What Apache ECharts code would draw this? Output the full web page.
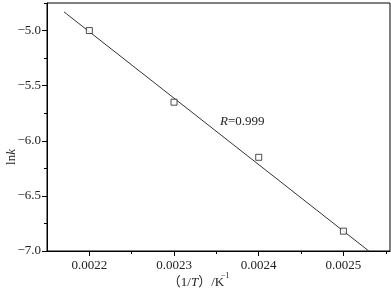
<!DOCTYPE html>
<html>
<head>
<meta charset="utf-8">
<script src="https://cdn.jsdelivr.net/npm/echarts@6/dist/echarts.min.js"></script>
<style>
html,body{margin:0;padding:0;background:#fff;}
#chart{width:391px;height:295px;}
</style>
</head>
<body>
<div id="chart"></div>
<script>
// measured points
var invT = [0.0022, 0.0023, 0.0024, 0.0025];
var lnK = [-5.0, -5.65, -6.15, -6.82];
// fitted line ends
var fitX = [0.00217, 0.00253];
var fitY = [-4.83, -7.0];
var xTicks = [0.0022, 0.0023, 0.0024, 0.0025];
var xMinorTicks = [0.00225, 0.00235, 0.00245, 0.00255];
var yTicks = [-7.0, -6.5, -6.0, -5.5, -5.0];
var yMinorTicks = [-6.75, -6.25, -5.75, -5.25, -4.75];

var font = "'Liberation Serif','Times New Roman',serif";
var ink = '#222';

var chart = echarts.init(document.getElementById('chart'));

var pts = invT.map(function(x, i){ return [x, lnK[i]]; });
var fit = fitX.map(function(x, i){ return [x, fitY[i]]; });

var option = {
	animation: false,
	grid: {
		left: 47, top: 3, right: 1, bottom: 44,
		show: true, borderColor: '#000', borderWidth: 1
	},
	xAxis: [{
		type: 'value',
		min: 0.00215, max: 0.002555,
		axisLine: { show: true, lineStyle: { color: '#000' } },
		axisTick: { show: true, customValues: xTicks, length: 5, lineStyle: { color: '#000' } },
		axisLabel: {
			customValues: xTicks,
			formatter: function(v){ return v.toFixed(4); },
			fontFamily: font, fontSize: 13, color: ink, margin: 8
		},
		splitLine: { show: false }
	}, {
		type: 'value',
		position: 'bottom',
		min: 0.00215, max: 0.002555,
		axisLine: { show: false },
		axisTick: { show: true, customValues: xMinorTicks, length: 3, lineStyle: { color: '#000' } },
		axisLabel: { show: false },
		splitLine: { show: false }
	}],
	yAxis: [{
		type: 'value',
		min: -7.0, max: -4.75,
		axisLine: { show: true, lineStyle: { color: '#000' } },
		axisTick: { show: true, customValues: yTicks, length: 5, lineStyle: { color: '#000' } },
		axisLabel: {
			customValues: yTicks,
			formatter: function(v){ return v.toFixed(1).replace('-', '\u2212'); },
			fontFamily: font, fontSize: 13, color: ink, margin: 6
		},
		splitLine: { show: false }
	}, {
		type: 'value',
		position: 'left',
		min: -7.0, max: -4.75,
		axisLine: { show: false },
		axisTick: { show: true, customValues: yMinorTicks, length: 3, lineStyle: { color: '#000' } },
		axisLabel: { show: false },
		splitLine: { show: false }
	}],
	series: [{
		type: 'line',
		data: fit,
		symbol: 'none',
		lineStyle: { color: '#333', width: 1 },
		z: 2
	}, {
		type: 'scatter',
		data: pts,
		symbol: 'rect',
		symbolSize: 6,
		itemStyle: { color: '#fff', borderColor: '#222', borderWidth: 1 },
		z: 3
	}],
	graphic: [{
		type: 'text',
		x: 220, y: 122,
		style: {
			text: '{i|R}{n|=0.999}',
			textVerticalAlign: 'middle',
			rich: {
				i: { fontFamily: font, fontSize: 13, fontStyle: 'italic', fill: ink },
				n: { fontFamily: font, fontSize: 13, fill: ink }
			}
		}
	}, {
		type: 'text',
		x: 12, y: 157,
		rotation: Math.PI / 2,
		style: {
			text: '{n|ln}{i|k}',
			textAlign: 'center',
			textVerticalAlign: 'middle',
			rich: {
				i: { fontFamily: font, fontSize: 13, fontStyle: 'italic', fill: ink },
				n: { fontFamily: font, fontSize: 13, fill: ink }
			}
		}
	}, {
		type: 'text',
		x: 196, y: 283,
		style: {
			text: '{n|（1/}{i|T}{n|）/K}',
			textAlign: 'center',
			textVerticalAlign: 'middle',
			rich: {
				n: { fontFamily: font + ",'Noto Sans CJK SC'", fontSize: 13, fill: ink },
				i: { fontFamily: font, fontSize: 13, fontStyle: 'italic', fill: ink }
			}
		}
	}, {
		type: 'text',
		x: 221, y: 276,
		style: {
			text: '−1',
			fontFamily: font, fontSize: 8, fill: ink,
			textAlign: 'left',
			textVerticalAlign: 'middle'
		}
	}]
};
chart.setOption(option);
</script>
</body>
</html>
